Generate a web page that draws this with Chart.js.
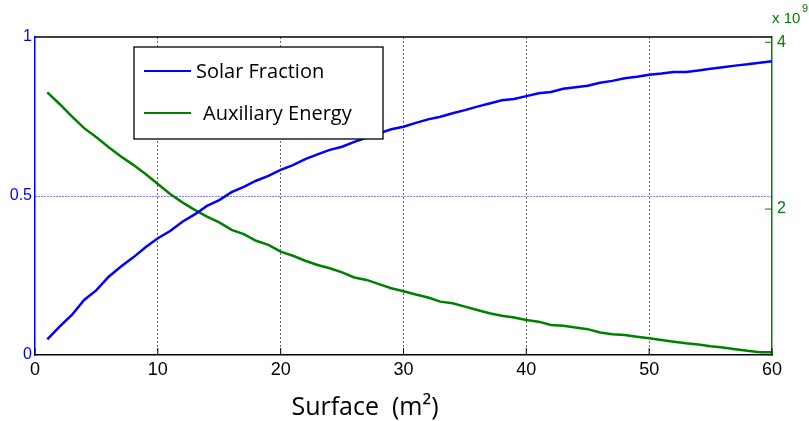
<!DOCTYPE html>
<html>
<head>
<meta charset="utf-8">
<script src="https://cdn.jsdelivr.net/npm/chart.js@4"></script>
<style>
  html, body { margin: 0; padding: 0; background: #fff; }
  #wrap { width: 809px; height: 421px; }
</style>
</head>
<body>
<div id="wrap"><canvas id="solarChart" width="809" height="421"></canvas></div>
<script>
// collector surface (m2)
const surface = [1, 2, 3, 4, 5, 6, 7, 8, 9, 10, 11, 12, 13, 14, 15, 16, 17, 18, 19, 20,
  21, 22, 23, 24, 25, 26, 27, 28, 29, 30, 31, 32, 33, 34, 35, 36, 37, 38, 39, 40,
  41, 42, 43, 44, 45, 46, 47, 48, 49, 50, 51, 52, 53, 54, 55, 56, 57, 58, 59, 60];

// solar fraction (left axis, 0..1)
const solarFraction = [0.049, 0.089, 0.126, 0.173, 0.204, 0.246, 0.278, 0.307, 0.339, 0.367,
  0.390, 0.419, 0.442, 0.469, 0.487, 0.512, 0.529, 0.548, 0.563, 0.582,
  0.597, 0.616, 0.631, 0.645, 0.655, 0.670, 0.684, 0.697, 0.710, 0.718,
  0.730, 0.741, 0.749, 0.760, 0.770, 0.781, 0.791, 0.801, 0.805, 0.814,
  0.823, 0.827, 0.837, 0.842, 0.847, 0.856, 0.862, 0.870, 0.875, 0.881,
  0.885, 0.890, 0.890, 0.895, 0.900, 0.905, 0.910, 0.914, 0.919, 0.924];

// auxiliary energy (right axis, x 10^9)
const auxEnergy = [3.40, 3.26, 3.11, 2.97, 2.86, 2.74, 2.63, 2.53, 2.42, 2.30,
  2.18, 2.08, 1.99, 1.91, 1.84, 1.75, 1.70, 1.62, 1.57, 1.49,
  1.44, 1.38, 1.33, 1.29, 1.24, 1.18, 1.15, 1.10, 1.05, 1.015,
  0.975, 0.94, 0.89, 0.87, 0.83, 0.79, 0.75, 0.72, 0.70, 0.67,
  0.65, 0.61, 0.60, 0.58, 0.56, 0.52, 0.50, 0.49, 0.47, 0.45,
  0.43, 0.41, 0.39, 0.375, 0.355, 0.34, 0.32, 0.30, 0.284, 0.284];

const rightTicks = [2, 4];

const BLUE = '#0000ff';
const GREEN = '#008000';

// top border, inner tick marks, legend box, axis title and exponent label
const decor = {
  id: 'decor',
  afterDraw(chart) {
    const { ctx, chartArea: a, scales } = chart;
    ctx.save();

    // top border
    ctx.strokeStyle = '#000';
    ctx.lineWidth = 1.5;
    ctx.beginPath();
    ctx.moveTo(a.left, a.top);
    ctx.lineTo(a.right, a.top);
    ctx.stroke();

    // short inward ticks on the x axis
    ctx.lineWidth = 1;
    scales.x.ticks.forEach(t => {
      const px = scales.x.getPixelForValue(t.value);
      ctx.beginPath();
      ctx.moveTo(px, a.bottom);
      ctx.lineTo(px, a.bottom - 7);
      ctx.stroke();
    });

    // inward ticks on the right axis
    ctx.strokeStyle = GREEN;
    scales.y1.ticks.forEach(t => {
      const py = scales.y1.getPixelForValue(t.value);
      ctx.beginPath();
      ctx.moveTo(a.right, py);
      ctx.lineTo(a.right - 7, py);
      ctx.stroke();
    });

    // legend box
    const bx = 134, by = 47, bw = 249, bh = 92;
    ctx.fillStyle = '#fff';
    ctx.fillRect(bx, by, bw, bh);
    ctx.strokeStyle = '#000';
    ctx.lineWidth = 1.3;
    ctx.strokeRect(bx, by, bw, bh);
    ctx.font = '20px "Open Sans", Lato, sans-serif';
    ctx.textBaseline = 'middle';
    const rows = [{ y: 71, tx: 196 }, { y: 113, tx: 203 }];
    chart.data.datasets.forEach((ds, i) => {
      const r = rows[i];
      ctx.strokeStyle = ds.borderColor;
      ctx.lineWidth = 2;
      ctx.beginPath();
      ctx.moveTo(144, r.y);
      ctx.lineTo(191, r.y);
      ctx.stroke();
      ctx.fillStyle = '#000';
      ctx.fillText(ds.label, r.tx, r.y + 1);
    });

    // x axis title
    ctx.font = '25px "Open Sans", Lato, sans-serif';
    ctx.textAlign = 'center';
    ctx.textBaseline = 'alphabetic';
    ctx.fillStyle = '#000';
    ctx.fillText('Surface  (m\u00b2)', 365, 415);

    // exponent of right axis
    ctx.fillStyle = GREEN;
    ctx.textAlign = 'left';
    ctx.font = '15px "Liberation Sans", Arial, sans-serif';
    ctx.fillText('x 10', 772, 23);
    ctx.font = '11px "Liberation Sans", Arial, sans-serif';
    ctx.fillText('9', 802, 12);
    ctx.restore();
  }
};

const ctx = document.getElementById('solarChart').getContext('2d');
new Chart(ctx, {
  type: 'line',
  data: {
    labels: surface,
    datasets: [{
      label: 'Solar Fraction',
      data: solarFraction,
      borderColor: BLUE,
      borderWidth: 2.5,
      pointRadius: 0,
      tension: 0,
      yAxisID: 'y'
    }, {
      label: 'Auxiliary Energy',
      data: auxEnergy,
      borderColor: GREEN,
      borderWidth: 2.5,
      pointRadius: 0,
      tension: 0,
      yAxisID: 'y1'
    }]
  },
  options: {
    responsive: false,
    animation: false,
    events: [],
    layout: { padding: { top: 37, left: 0, right: 0, bottom: 0 } },
    plugins: { legend: { display: false }, tooltip: { enabled: false } },
    scales: {
      x: {
        type: 'linear',
        min: 0,
        max: 60,
        ticks: {
          stepSize: 10,
          color: '#000',
          padding: 4,
          maxRotation: 0,
          font: { family: '"Liberation Sans", Arial, sans-serif', size: 18 }
        },
        grid: {
          drawTicks: false,
          lineWidth: 1,
          color: c => (c.tick.value === 0 || c.tick.value === 60) ? 'rgba(0,0,0,0)' : '#666'
        },
        border: { color: '#000', width: 1.5, dash: [2, 2] },
        afterFit: s => { s.height = 66; }
      },
      y: {
        position: 'left',
        min: 0,
        max: 1,
        ticks: {
          stepSize: 0.5,
          color: BLUE,
          padding: 3,
          font: { family: '"Liberation Sans", Arial, sans-serif', size: 16 },
          callback: v => String(v)
        },
        grid: {
          drawTicks: false,
          lineWidth: 1,
          color: c => c.tick.value === 0.5 ? BLUE : 'rgba(0,0,0,0)'
        },
        border: { color: BLUE, width: 1.5, dash: [1, 2] },
        afterFit: s => { s.width = 35; }
      },
      y1: {
        position: 'right',
        min: 0.25,
        max: 4.063,
        afterBuildTicks: s => { s.ticks = rightTicks.map(v => ({ value: v })); },
        ticks: {
          color: GREEN,
          padding: 5,
          font: { family: '"Liberation Sans", Arial, sans-serif', size: 16 },
          callback: v => String(v)
        },
        grid: { drawOnChartArea: false, drawTicks: false },
        border: { color: GREEN, width: 1.5 },
        afterFit: s => { s.width = 37; }
      }
    }
  },
  plugins: [decor]
});
</script>
</body>
</html>
